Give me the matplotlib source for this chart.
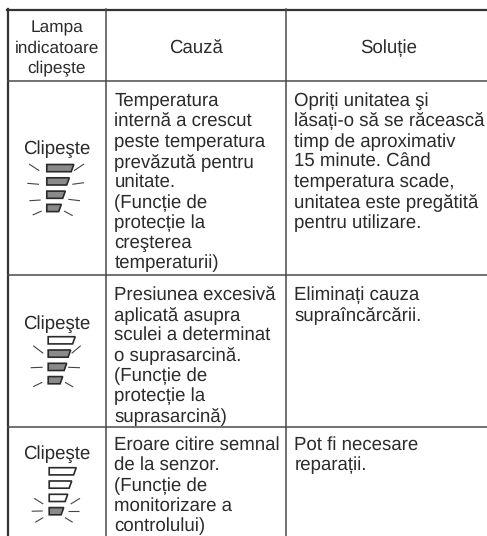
"""Tabel cu semnalele lămpii indicatoare."""
from matplotlib import pyplot as plt
from matplotlib.patches import Polygon

plt.rcParams["font.family"] = ["Liberation Sans", "DejaVu Sans"]
plt.rcParams["text.hinting"] = "no_hinting"

INK = "#2b2b2b"
LINE = "#4a4a4a"
FILL = "#8a8a8a"
SIZE = 13.4

headers = [["Lampa", "indicatoare", "clipeşte"], ["Cauză"], ["Soluție"]]
lamp_label = "Clipeşte"
cause = [
    ["Temperatura", "internă a crescut", "peste temperatura", "prevăzută pentru",
     "unitate.", "(Funcție de", "protecție la", "creşterea", "temperaturii)"],
    ["Presiunea excesivă", "aplicată asupra", "sculei a determinat", "o suprasarcină.",
     "(Funcție de", "protecție la", "suprasarcină)"],
    ["Eroare citire semnal", "de la senzor.", "(Funcție de", "monitorizare a",
     "controlului)"],
]
solution = [
    ["Opriți unitatea şi", "lăsați-o să se răcească", "timp de aproximativ",
     "15 minute. Când", "temperatura scade,", "unitatea este pregătită",
     "pentru utilizare."],
    ["Eliminați cauza", "supraîncărcării."],
    ["Pot fi necesare", "reparații."],
]
row_lines = [81, 275, 427]
col_lines = [106, 286]
row_baseline = [106, 299.5, 450]
label_baseline = [154, 328.5, 459]
lamp_top = [164.5, 336.7, 467.7]
lamp_left = [46.8, 48.2, 49.2]
lit_from = [0, 1, 3]
bar_widths = [27, 22.5, 18.5, 14.5]
# razele: bara, x0, y0, x1, y1 fata de coltul lampii
rays = [
    [(0, -17.8, -0.5, -7.5, 6.2), (0, 27.2, 6.2, 37.2, -0.5),
     (1, -19.5, 5.5, -7.8, 6.5), (1, 25.5, 6.5, 37.2, 4.9),
     (2, -17.5, 9.6, -6.1, 8.9), (2, 21.5, 8.2, 33.2, 9.6),
     (3, -14.1, 10.6, -5.1, 6.6), (3, 17.2, 6.6, 25.9, 11.3)],
    [(1, -15, -4.3, -5, 3.3), (1, 23.5, 3.3, 32.5, -4.3),
     (2, -17.5, 4.4, -5.5, 4.0), (2, 20, 4.0, 31.8, 4.4),
     (3, -15, 10.1, -6, 5.7), (3, 16.8, 5.7, 25, 10.4)],
    [(3, -15, -9.3, -6, -3.6), (3, 21.5, -3.6, 30.8, -9.3),
     (3, -17.5, 3.6, -6.5, 3.4), (3, 19, 3.4, 29.8, 3.4),
     (3, -14, 14.7, -6, 10), (3, 15.8, 10, 23.5, 14.7)],
]


def draw_lamp(ax, left, top, first_lit, lamp_rays):
    for i, w in enumerate(bar_widths):
        y = top + i * 13.3
        lit = i >= first_lit
        pts = [(left, y), (left + w, y), (left + w - 2.6, y + 7.2), (left, y + 7.2)]
        ax.add_patch(Polygon(pts, closed=True, fc=FILL if lit else "white",
                             ec="#2a2a2a", lw=1.2))
    for i, x0, y0, x1, y1 in lamp_rays:
        y = top + i * 13.3
        ax.plot([left + x0, left + x1], [y + y0, y + y1], color="#444444",
                lw=0.8, solid_capstyle="butt")


def main():
    fig = plt.figure(figsize=(4.87, 5.36), dpi=100)
    ax = fig.add_axes([0, 0, 1, 1])
    ax.set_xlim(0, 487)
    ax.set_ylim(536, 0)
    ax.axis("off")

    # cadrul tabelului
    ax.plot([7, 487], [9.5, 9.5], color="#333333", lw=1.6)
    ax.plot([8, 8], [9, 536], color="#333333", lw=1.6)
    for y in row_lines:
        ax.plot([8, 487], [y, y], color=LINE, lw=1.1)
    for x in col_lines:
        ax.plot([x, x], [9, 536], color=LINE, lw=1.1)

    # antet
    for i, line in enumerate(headers[0]):
        ax.text(57, 32.7 + i * 20, line, ha="center", va="baseline",
                fontsize=12.4, color=INK)
    ax.text(196, 52.7, headers[1][0], ha="center", va="baseline", fontsize=SIZE, color=INK)
    ax.text(389, 52.7, headers[2][0], ha="center", va="baseline", fontsize=SIZE, color=INK)

    for r in range(3):
        ax.text(57, label_baseline[r], lamp_label, ha="center", va="baseline",
                fontsize=SIZE, color=INK)
        draw_lamp(ax, lamp_left[r], lamp_top[r], lit_from[r], rays[r])
        for i, line in enumerate(cause[r]):
            ax.text(114.5, row_baseline[r] + i * 20.3, line, va="baseline",
                    fontsize=SIZE, color=INK)
        for i, line in enumerate(solution[r]):
            ax.text(294.5, row_baseline[r] + i * 20.3, line, va="baseline",
                    fontsize=SIZE, color=INK)

    fig.savefig("out.png", dpi=100)


if __name__ == "__main__":
    main()
